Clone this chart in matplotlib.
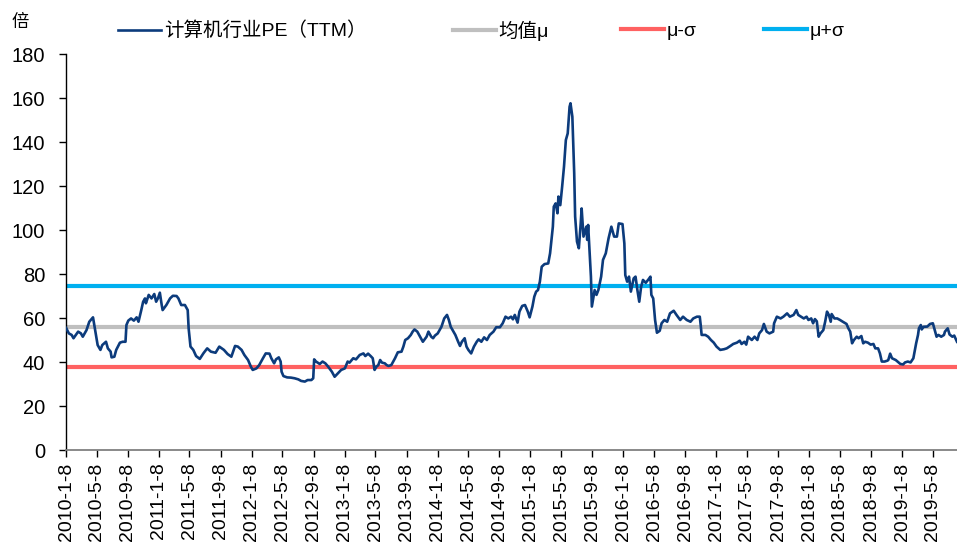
import matplotlib
matplotlib.use("Agg")
import matplotlib.pyplot as plt
import pandas as pd
import numpy as np
from datetime import datetime, timedelta

plt.rcParams['font.family'] = ['Liberation Sans', 'Noto Sans CJK SC', 'DejaVu Sans']

# ---------------- data ----------------
# time in decimal years, PE (TTM) values
pe_time = [
    2010.02, 2010.05, 2010.08, 2010.10, 2010.15, 2010.18, 2010.20, 2010.24, 2010.27, 2010.31,
    2010.33, 2010.36, 2010.39, 2010.41, 2010.45, 2010.47, 2010.50, 2010.51, 2010.54, 2010.56,
    2010.60, 2010.63, 2010.66, 2010.67, 2010.69, 2010.72, 2010.75, 2010.78, 2010.80, 2010.83,
    2010.85, 2010.87, 2010.88, 2010.91, 2010.94, 2010.97, 2010.99, 2011.01, 2011.03, 2011.05,
    2011.06, 2011.10, 2011.14, 2011.17, 2011.21, 2011.23, 2011.26, 2011.30, 2011.33, 2011.34,
    2011.36, 2011.39, 2011.42, 2011.46, 2011.50, 2011.54, 2011.58, 2011.63, 2011.67, 2011.72,
    2011.76, 2011.80, 2011.84, 2011.87, 2011.91, 2011.94, 2011.98, 2012.01, 2012.03, 2012.07,
    2012.10, 2012.14, 2012.17, 2012.21, 2012.23, 2012.26, 2012.28, 2012.31, 2012.33, 2012.34,
    2012.36, 2012.40, 2012.44, 2012.48, 2012.52, 2012.55, 2012.59, 2012.62, 2012.66, 2012.68,
    2012.69, 2012.71, 2012.75, 2012.78, 2012.81, 2012.84, 2012.88, 2012.91, 2012.95, 2012.98,
    2013.02, 2013.05, 2013.07, 2013.11, 2013.14, 2013.18, 2013.22, 2013.24, 2013.27, 2013.30,
    2013.32, 2013.34, 2013.36, 2013.38, 2013.40, 2013.42, 2013.45, 2013.47, 2013.49, 2013.52,
    2013.56, 2013.59, 2013.63, 2013.65, 2013.67, 2013.70, 2013.73, 2013.75, 2013.77, 2013.80,
    2013.83, 2013.86, 2013.90, 2013.92, 2013.95, 2013.97, 2013.99, 2014.02, 2014.06, 2014.09,
    2014.12, 2014.14, 2014.16, 2014.19, 2014.21, 2014.24, 2014.26, 2014.28, 2014.31, 2014.33,
    2014.35, 2014.38, 2014.41, 2014.44, 2014.46, 2014.49, 2014.52, 2014.55, 2014.58, 2014.62,
    2014.65, 2014.69, 2014.72, 2014.75, 2014.78, 2014.81, 2014.83, 2014.85, 2014.88, 2014.90,
    2014.93, 2014.96, 2014.99, 2015.01, 2015.04, 2015.06, 2015.08, 2015.10, 2015.12, 2015.14,
    2015.17, 2015.21, 2015.23, 2015.26, 2015.27, 2015.29, 2015.31, 2015.32, 2015.34, 2015.36,
    2015.38, 2015.40, 2015.42, 2015.44, 2015.45, 2015.47, 2015.49, 2015.50, 2015.52, 2015.54,
    2015.56, 2015.57, 2015.59, 2015.62, 2015.63, 2015.64, 2015.67, 2015.68, 2015.71, 2015.73,
    2015.75, 2015.78, 2015.80, 2015.83, 2015.86, 2015.89, 2015.92, 2015.95, 2015.97, 2016.01,
    2016.03, 2016.04, 2016.06, 2016.08, 2016.10, 2016.13, 2016.15, 2016.17, 2016.19, 2016.21,
    2016.23, 2016.26, 2016.29, 2016.31, 2016.32, 2016.34, 2016.36, 2016.38, 2016.41, 2016.43,
    2016.46, 2016.49, 2016.52, 2016.56, 2016.59, 2016.63, 2016.66, 2016.70, 2016.74, 2016.77,
    2016.81, 2016.84, 2016.85, 2016.86, 2016.90, 2016.93, 2016.96, 2016.99, 2017.02, 2017.06,
    2017.10, 2017.13, 2017.17, 2017.20, 2017.24, 2017.27, 2017.29, 2017.32, 2017.34, 2017.36,
    2017.40, 2017.43, 2017.46, 2017.48, 2017.51, 2017.53, 2017.56, 2017.59, 2017.63, 2017.64,
    2017.67, 2017.71, 2017.74, 2017.78, 2017.81, 2017.85, 2017.88, 2017.90, 2017.93, 2017.96,
    2017.99, 2018.01, 2018.04, 2018.06, 2018.08, 2018.10, 2018.12, 2018.14, 2018.17, 2018.19,
    2018.21, 2018.23, 2018.25, 2018.26, 2018.29, 2018.32, 2018.35, 2018.38, 2018.42, 2018.44,
    2018.46, 2018.48, 2018.50, 2018.53, 2018.55, 2018.58, 2018.60, 2018.62, 2018.65, 2018.68,
    2018.71, 2018.73, 2018.76, 2018.78, 2018.80, 2018.83, 2018.86, 2018.87, 2018.89, 2018.91,
    2018.95, 2018.97, 2019.00, 2019.03, 2019.05, 2019.08, 2019.11, 2019.14, 2019.15, 2019.17,
    2019.19, 2019.20, 2019.22, 2019.23, 2019.25, 2019.29, 2019.32, 2019.35, 2019.37, 2019.39,
    2019.41, 2019.44, 2019.47, 2019.48, 2019.51, 2019.53, 2019.56, 2019.58, 2019.61,
]
pe_value = [
    55.5, 53.0, 52.3, 50.8, 53.8, 53.0, 51.5, 54.5, 58.3, 60.3,
    55.3, 47.7, 45.5, 47.7, 49.2, 46.2, 44.7, 42.1, 42.4, 45.5,
    48.8, 49.2, 49.2, 56.8, 58.8, 59.8, 58.8, 60.3, 58.3, 63.6,
    67.4, 68.9, 66.7, 70.5, 68.9, 70.9, 67.4, 69.0, 71.5, 65.9,
    63.6, 65.9, 68.9, 70.1, 70.0, 68.9, 65.9, 65.9, 63.6, 55.3,
    47.0, 45.5, 42.7, 41.4, 44.0, 46.2, 44.7, 44.2, 47.0, 45.5,
    43.6, 42.4, 47.3, 47.0, 45.5, 43.2, 40.9, 37.9, 36.4, 37.1,
    38.6, 41.7, 43.9, 43.8, 41.7, 39.4, 41.2, 42.1, 40.2, 35.6,
    33.6, 33.0, 32.9, 32.6, 32.1, 31.4, 31.1, 31.8, 31.8, 32.6,
    41.2, 40.2, 39.1, 40.2, 39.4, 37.9, 35.6, 33.3, 35.1, 36.4,
    37.1, 40.2, 39.7, 41.7, 41.2, 43.2, 43.9, 42.7, 43.8, 42.6,
    41.7, 36.4, 37.9, 38.6, 40.9, 39.7, 39.4, 38.6, 38.2, 38.6,
    41.7, 44.4, 44.7, 47.0, 50.0, 50.8, 52.3, 53.8, 54.8, 53.8,
    51.5, 49.2, 51.5, 53.8, 51.5, 50.8, 52.0, 53.0, 56.0, 59.8,
    61.4, 59.1, 56.0, 53.8, 52.3, 49.2, 47.3, 49.2, 50.8, 47.0,
    45.5, 43.9, 47.0, 49.2, 50.3, 49.2, 51.2, 50.0, 52.3, 53.8,
    55.8, 55.8, 57.6, 60.6, 59.8, 60.6, 59.4, 61.4, 57.9, 62.9,
    65.5, 65.9, 62.9, 60.3, 65.2, 69.7, 72.0, 72.7, 76.5, 83.3,
    84.5, 84.8, 89.4, 101.5, 110.6, 112.1, 107.6, 115.2, 111.3, 119.7,
    128.8, 140.9, 143.9, 156.0, 157.6, 151.5, 125.8, 106.1, 94.7, 91.7,
    103.0, 109.8, 97.0, 101.5, 95.5, 102.3, 78.8, 65.2, 72.7, 70.5,
    72.7, 78.8, 86.4, 89.4, 96.2, 101.5, 97.0, 97.0, 103.0, 102.7,
    93.9, 79.5, 76.5, 78.8, 72.0, 78.0, 78.8, 72.7, 67.4, 74.2,
    77.3, 76.0, 77.6, 78.8, 70.5, 68.9, 59.1, 53.3, 54.2, 57.6,
    59.1, 58.3, 62.1, 63.3, 61.4, 59.1, 60.6, 59.1, 58.3, 59.8,
    60.6, 60.6, 56.8, 52.3, 52.3, 51.5, 50.0, 48.8, 47.0, 45.5,
    45.8, 46.2, 47.3, 48.2, 48.8, 49.7, 48.2, 49.2, 47.9, 51.5,
    50.0, 51.5, 50.0, 53.0, 54.5, 57.3, 53.8, 53.0, 53.8, 57.6,
    60.6, 59.8, 60.6, 62.1, 60.6, 61.4, 63.6, 61.4, 60.6, 59.8,
    60.6, 59.1, 59.8, 57.6, 59.5, 58.5, 51.5, 53.0, 54.5, 58.3,
    62.9, 61.4, 58.3, 61.8, 59.8, 59.8, 59.1, 58.3, 57.3, 55.3,
    53.8, 48.5, 50.0, 51.5, 50.8, 51.8, 48.5, 49.2, 48.8, 47.9,
    48.2, 46.2, 46.2, 43.9, 40.2, 40.2, 40.6, 40.9, 43.8, 41.7,
    40.9, 40.2, 39.1, 38.9, 39.8, 40.2, 39.8, 41.7, 43.9, 48.5,
    52.3, 55.3, 56.8, 54.8, 56.0, 56.1, 57.3, 57.6, 54.5, 51.5,
    52.3, 51.5, 52.3, 53.8, 55.3, 52.5, 51.5, 52.0, 49.2,
]

mu = 56.1
mu_minus_sigma = 37.7
mu_plus_sigma = 74.5

tick_labels = [
    "2010-1-8", "2010-5-8", "2010-9-8", "2011-1-8", "2011-5-8", "2011-9-8",
    "2012-1-8", "2012-5-8", "2012-9-8", "2013-1-8", "2013-5-8", "2013-9-8",
    "2014-1-8", "2014-5-8", "2014-9-8", "2015-1-8", "2015-5-8", "2015-9-8",
    "2016-1-8", "2016-5-8", "2016-9-8", "2017-1-8", "2017-5-8", "2017-9-8",
    "2018-1-8", "2018-5-8", "2018-9-8", "2019-1-8", "2019-5-8",
]
y_ticks = [0, 20, 40, 60, 80, 100, 120, 140, 160, 180]

legend_labels = ["计算机行业PE（TTM）", "均值μ", "μ-σ", "μ+σ"]
colors = ["#0C3B7C", "#BFBFBF", "#FF6161", "#00B0F0"]


def dec_to_dt(t):
    y = int(np.floor(t))
    start = datetime(y, 1, 1)
    days = (datetime(y + 1, 1, 1) - start).days
    return start + timedelta(days=(t - y) * days)


dates = [dec_to_dt(t) for t in pe_time]
tick_dates = [datetime.strptime(s, "%Y-%m-%d") for s in tick_labels]

# ---------------- figure ----------------
fig = plt.figure(figsize=(9.57, 5.48), dpi=100)
ax = fig.add_axes([66 / 957, 1 - 450 / 548, 1 - 66 / 957, (450 - 54) / 548])

xmin, xmax = tick_dates[0], dates[-1]
h_mu, = ax.plot([xmin, xmax], [mu, mu], color=colors[1], lw=3.0, zorder=2)
h_lo, = ax.plot([xmin, xmax], [mu_minus_sigma] * 2, color=colors[2], lw=3.0, zorder=2)
h_hi, = ax.plot([xmin, xmax], [mu_plus_sigma] * 2, color=colors[3], lw=3.0, zorder=2)
h_pe, = ax.plot(dates, pe_value, color=colors[0], lw=1.9, zorder=3)

ax.set_xlim(xmin, xmax)
ax.set_ylim(0, 180)
ax.set_yticks(y_ticks)
ax.set_yticklabels([str(v) for v in y_ticks], fontsize=14.5)
ax.set_xticks(tick_dates)
ax.set_xticklabels(tick_labels, rotation=90, fontsize=14)

for s in ["top", "right"]:
    ax.spines[s].set_visible(False)
ax.spines["left"].set_color("black")
ax.spines["left"].set_linewidth(1.0)
ax.spines["bottom"].set_color("#808080")
ax.spines["bottom"].set_linewidth(1.3)
ax.tick_params(axis="y", direction="out", length=5, width=1.0, pad=10, colors="black")
ax.tick_params(axis="x", direction="out", length=5, width=1.0, pad=4, color="black")

# legend entries placed individually, like the reference
handles = [h_pe, h_mu, h_lo, h_hi]
legend_x = [118, 453, 621, 764]
for h, lab, lx in zip(handles, legend_labels, legend_x):
    fig.legend([h], [lab], loc="center left", bbox_to_anchor=(lx / 957, 1 - 31 / 548),
               frameon=False, fontsize=14, handlelength=2.2, handletextpad=0.15,
               borderaxespad=0, borderpad=0)

fig.text(12 / 957, 1 - 22 / 548, "倍", fontsize=12.5, va="center", ha="left",
         family=["Noto Sans CJK SC"])

fig.savefig("out.png", dpi=100)
